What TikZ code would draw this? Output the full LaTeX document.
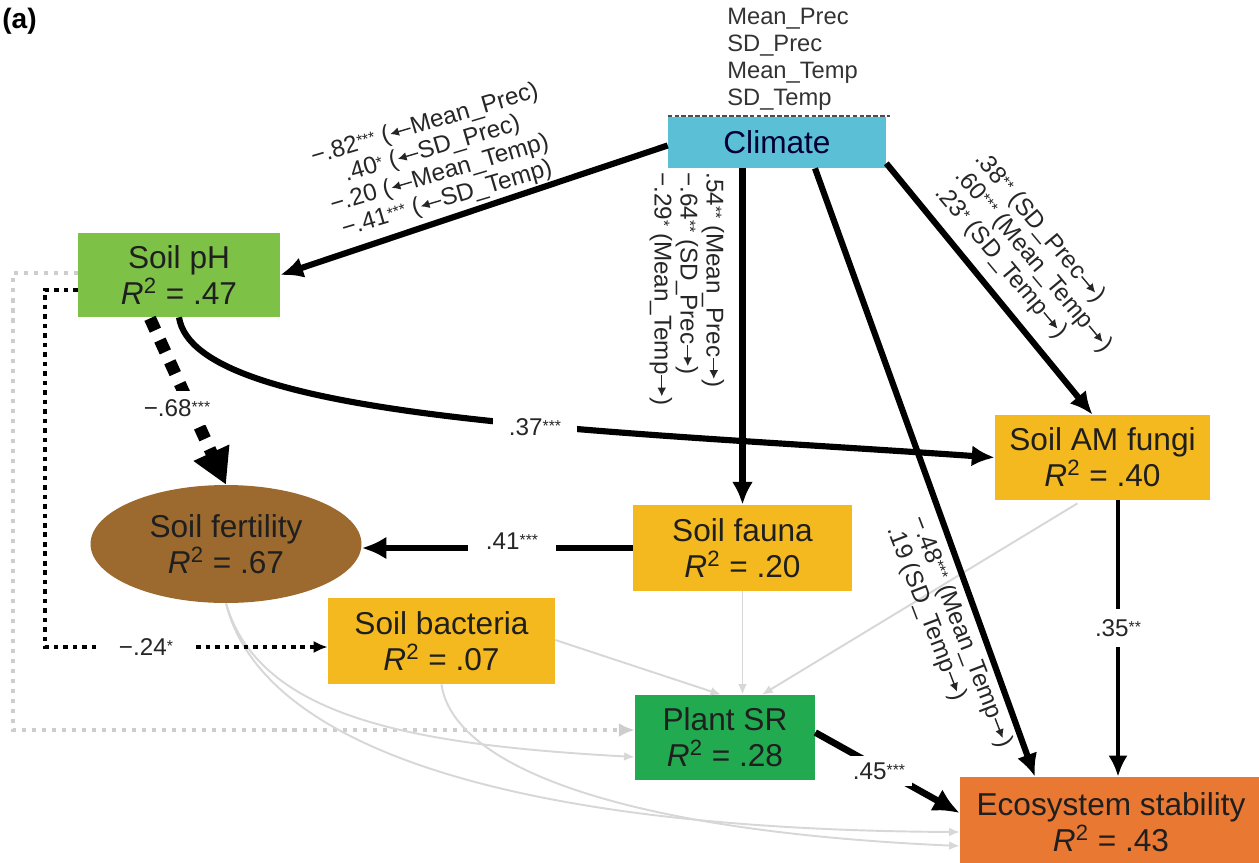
\documentclass[tikz,border=0pt]{standalone}
\usepackage{fontspec}
\setmainfont{Liberation Sans}
\usetikzlibrary{arrows.meta,calc,shapes.geometric}

\definecolor{climc}{RGB}{91,192,214}
\definecolor{phc}{RGB}{125,194,70}
\definecolor{fertc}{RGB}{156,106,46}
\definecolor{goldc}{RGB}{244,185,30}
\definecolor{plantc}{RGB}{34,170,80}
\definecolor{ecoc}{RGB}{232,120,50}
\definecolor{greyc}{RGB}{215,215,215}
\definecolor{dotgrey}{RGB}{205,205,205}

\newcommand{\myla}{\tikz[baseline=-0.55ex]\draw[line width=0.8pt,{Latex[length=5pt,width=5pt]}-] (0pt,0pt) -- (12pt,0pt);}
\newcommand{\myra}{\tikz[baseline=-0.55ex]\draw[line width=0.8pt,-{Latex[length=5pt,width=5pt]}] (0pt,0pt) -- (12pt,0pt);}
\newcommand{\nodefont}{\fontsize{18}{20.5}\selectfont}
\newcommand{\labfont}{\fontsize{13.8}{14.8}\selectfont\lineskiplimit=-20pt\lineskip=0pt}
\newcommand{\varfont}{\fontsize{13.5}{15.3}\selectfont}
\newcommand{\Rsq}{\textit{R}\textsuperscript{2}}
\newcommand{\sig}[1]{\raisebox{0.3ex}{\fontsize{9}{9}\selectfont #1}}

\begin{document}
\begin{tikzpicture}[x=0.02cm,y=-0.02cm,
  box/.style={rectangle, inner sep=0pt, align=center, font=\nodefont, text=black!88},
  thick arrow/.style={line width=3.5pt, -{Latex[length=13pt,width=12pt]}},
  lab/.style={font=\labfont, text=black!85, inner sep=1pt},
  gap/.style={lab, fill=white},
  grey arrow/.style={draw=greyc, line width=1.1pt, -{Latex[length=6pt,width=5pt]}},
]
\useasboundingbox (0,0) rectangle (1259,863);

% nodes
\node[box, fill=climc, minimum width=4.36cm, minimum height=1.02cm, text=black!80!blue] (clim) at (777,142.5) {Climate};
\node[box, fill=phc, minimum width=4.04cm, minimum height=1.68cm] (ph) at (179,275) {Soil pH\\\Rsq{} = .47};
\node[ellipse, inner sep=0pt, fill=fertc, minimum width=5.42cm, minimum height=2.36cm, align=center, font=\nodefont, text=black!88] (fert) at (226,544) {Soil fertility\\\Rsq{} = .67};
\node[box, fill=goldc, minimum width=4.38cm, minimum height=1.72cm] (fauna) at (742.5,548) {Soil fauna\\\Rsq{} = .20};
\node[box, fill=goldc, minimum width=4.54cm, minimum height=1.72cm] (bact) at (441.5,641) {Soil bacteria\\\Rsq{} = .07};
\node[box, fill=goldc, minimum width=4.3cm, minimum height=1.7cm] (amf) at (1102.5,457.5) {Soil AM fungi\\\Rsq{} = .40};
\node[box, fill=plantc, minimum width=3.6cm, minimum height=1.7cm] (plant) at (725,737.5) {Plant SR\\\Rsq{} = .28};
\node[box, fill=ecoc, minimum width=6.04cm, minimum height=1.8cm] (eco) at (1111,822) {Ecosystem stability\\\Rsq{} = .43};

\node[font=\fontsize{16}{18}\selectfont\bfseries, anchor=north west, inner sep=0pt] (tag) at (2,8) {(a)};
\node[font=\varfont, text=black!80, align=left, anchor=west, inner sep=0pt] (vars) at (727,59) {Mean\_Prec\\SD\_Prec\\Mean\_Temp\\SD\_Temp};
\draw[black!70, line width=1.3pt, dash pattern=on 2.6pt off 1.3pt] ($(clim.north west)+(0,-1)$) -- ($(clim.north east)+(4,-1)$);

% grey (non-significant) paths
\coordinate (g1) at (13,730);
\draw[dotgrey, line width=2.3pt, dash pattern=on 2.3pt off 3.4pt, -{Latex[length=9pt,width=8pt]}] ($(ph.west)+(0,-2)$) -| (g1) -- (g1 -| plant.west);
\draw[grey arrow] (fauna.south) -- (fauna.south |- plant.north);
\draw[grey arrow] ($(bact.east)+(0,-1)$) -- ($(plant.north)+(-4,0)$);
\draw[grey arrow] ($(amf.south)+(-25,3)$) -- ($(plant.north)+(37,0)$);
\draw[grey arrow] (fert.south) .. controls (260,720) and (420,745) .. ($(plant.west)+(0,19.5)$);
\draw[grey arrow] (fert.south) .. controls (265,760) and (550,830) .. ($(eco.west)+(0,10)$);
\draw[grey arrow] (bact.south) .. controls (452,760) and (600,830) .. ($(eco.west)+(0,24)$);

% black dotted
\coordinate (k1) at (45,647);
\draw[line width=2.6pt, dash pattern=on 2.6pt off 2.8pt, -{Latex[length=8pt,width=7pt]}] ($(ph.west)+(0,15)$) -| (k1) -- (k1 -| bact.west);

% thick dashed
\draw[line width=7pt, dash pattern=on 7.4pt off 6.2pt, -{Triangle[length=20pt,width=21pt]}] ($(ph.south)+(-29,1)$) -- (fert.north);

% thick paths
\draw[thick arrow] ($(clim.west)+(0,3)$) -- (ph.east);
\draw[thick arrow] (clim.south -| fauna.north) -- (fauna.north);
\draw[thick arrow] ($(clim.south)+(38,0)$) -- ($(eco.north)+(-76,0)$);
\draw[thick arrow] ($(clim.south east)+(0,-5)$) -- ($(amf.north)+(-10,0)$);
\draw[thick arrow] (ph.south) .. controls (195,420) and (600,430) .. (amf.west);
\coordinate (amfs) at ($(amf.south)+(15.5,0)$);
\draw[line width=2.6pt, -{Latex[length=12pt,width=11pt]}] (amfs) -- (amfs |- eco.north);
\draw[line width=3.8pt, -{Latex[length=14pt,width=13pt]}] (fauna.west) -- (fauna.west -| fert.east);
\draw[line width=3.8pt, -{Latex[length=15pt,width=14pt]}] ($(plant.east)+(0,-5)$) -- ($(eco.west)+(0,-9)$);

% labels
\node[lab, rotate=16.5, align=center] (lcp) at (436,162) {−.82\sig{***} (\myla Mean\_Prec)\\.40\sig{*} (\myla SD\_Prec)\\−.20 (\myla Mean\_Temp)\\−.41\sig{***} (\myla SD\_Temp)};
\node[lab, rotate=-90, anchor=west, align=left, inner sep=0pt] (lcf) at (687,172) {.54\sig{**} (Mean\_Prec\myra)\\−.64\sig{**} (SD\_Prec\myra)\\−.29\sig{*} (Mean\_Temp\myra)};
\node[lab, rotate=-50, anchor=west, align=left, inner sep=0pt] (lca) at (959,172) {.38\sig{**} (SD\_Prec\myra)\\.60\sig{***} (Mean\_Temp\myra)\\.23\sig{*} (SD\_Temp\myra)};
\node[lab, rotate=-69, anchor=west, align=left, inner sep=0pt] (lce) at (905,522) {−.48\sig{***} (Mean\_Temp\myra)\\.19 (SD\_Temp\myra)};

\node[gap, inner xsep=6pt, inner ysep=5pt] (l68) at (177,408) {−.68\sig{***}};
\node[gap, inner xsep=9pt] (l37) at (535,427) {.37\sig{***}};
\node[gap, inner xsep=10pt] (l41) at (512,541) {.41\sig{***}};
\node[gap, inner xsep=11pt] (l24) at (146,647) {−.24\sig{*}};
\node[gap, inner ysep=6pt] (l35) at (1118,628) {.35\sig{**}};
\node[gap, inner sep=4pt] (l45) at (879,771) {.45\sig{***}};
\end{tikzpicture}
\end{document}
